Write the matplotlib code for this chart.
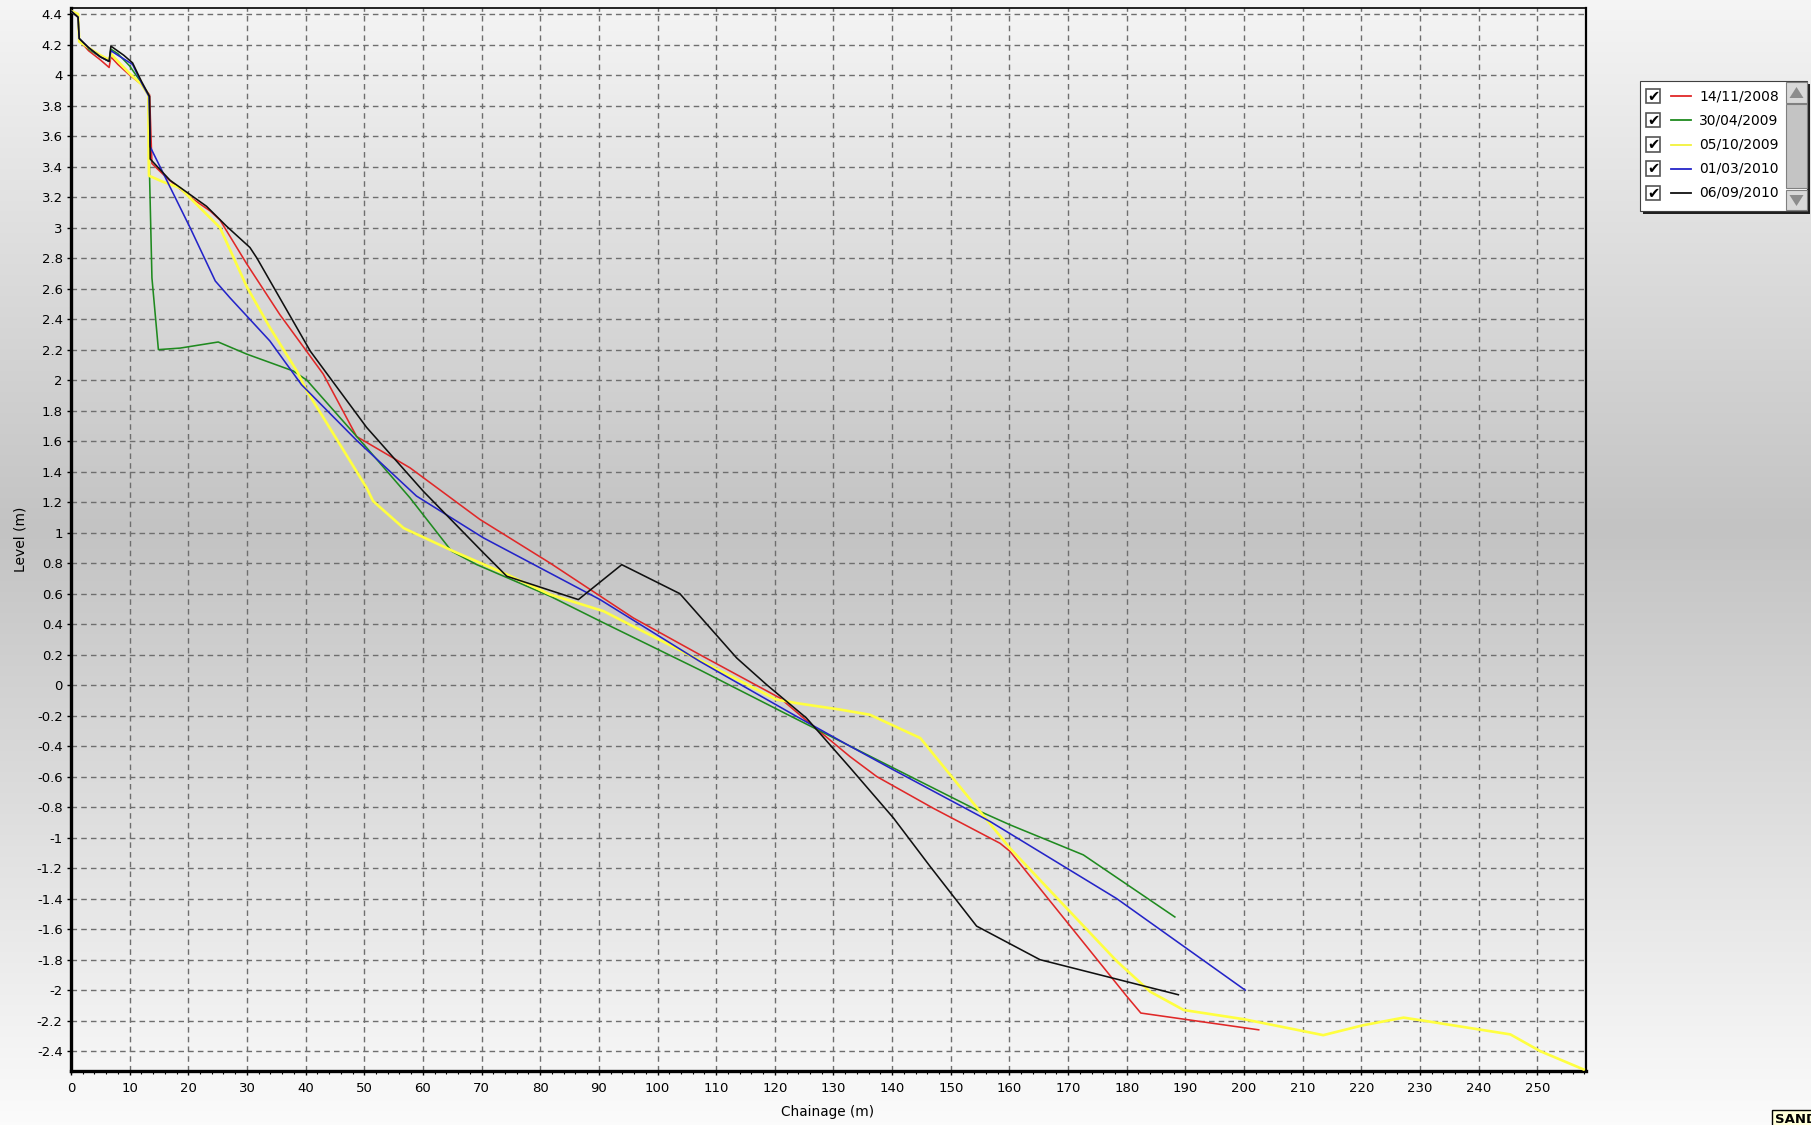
import numpy as np
import matplotlib
matplotlib.use("Agg")
import matplotlib.pyplot as plt
from matplotlib.patches import Rectangle, Polygon
from matplotlib.ticker import MultipleLocator, FuncFormatter

# ---------------- data ----------------
series_labels = ["14/11/2008", "30/04/2009", "05/10/2009", "01/03/2010", "06/09/2010"]
series_colors = ["#e02828", "#1f8a1f", "#ffff40", "#2424c8", "#101010"]

red_x = [0, 1.2, 1.4, 3, 5, 6.5, 6.8, 8, 10, 12, 13.2, 13.4, 13.8, 16.5, 20.3, 23.7, 25.4, 30, 35.6, 43,
         48.7, 57.8, 69.7, 81.7, 95.9, 107.2, 120.9, 124.9, 132.8, 137.4, 147, 158.4, 160.1, 180, 182.4, 202.5]
red_y = [4.42, 4.38, 4.23, 4.16, 4.10, 4.05, 4.12, 4.07, 4.00, 3.94, 3.88, 3.87, 3.42, 3.32, 3.20, 3.11, 3.05,
         2.76, 2.43, 2.04, 1.63, 1.425, 1.087, 0.80, 0.44, 0.20, -0.085, -0.216, -0.468, -0.60, -0.807,
         -1.037, -1.09, -2.04, -2.15, -2.26]

green_x = [0, 1.2, 1.4, 3, 5, 6.5, 6.8, 8, 10, 12, 13.2, 13.4, 13.8, 14.9, 18.6, 25.1, 30, 37.9, 40.2,
           50.4, 57.8, 64.9, 69.2, 81.7, 90.2, 107.2, 121.5, 138.5, 154.4, 160.1, 172.6, 188.2]
green_y = [4.42, 4.38, 4.24, 4.17, 4.12, 4.09, 4.17, 4.14, 4.06, 3.95, 3.87, 3.33, 2.67, 2.20, 2.21, 2.25,
           2.17, 2.06, 2.00, 1.557, 1.228, 0.878, 0.79, 0.583, 0.42, 0.10, -0.18, -0.51, -0.818, -0.916,
           -1.113, -1.52]

yellow_x = [0, 1.2, 1.4, 3, 5, 6.5, 6.8, 8, 10, 12, 13.2, 13.25, 13.3, 15.7, 18.6, 25.4, 30, 33.9, 38.5,
            40.2, 44.7, 50.4, 51.5, 56.7, 65.2, 74.3, 81.7, 90.8, 120.3, 123.7, 131.1, 136.2, 144.8, 149.9,
            160.1, 178.3, 184, 189.7, 199.9, 209, 213.5, 220.3, 227.2, 230.6, 245.4, 250.5, 257.9]
yellow_y = [4.42, 4.40, 4.22, 4.18, 4.13, 4.10, 4.14, 4.09, 4.01, 3.94, 3.87, 3.44, 3.34, 3.30, 3.26, 3.00,
            2.61, 2.345, 2.06, 1.93, 1.65, 1.294, 1.207, 1.03, 0.878, 0.726, 0.594, 0.485, -0.095, -0.118,
            -0.16, -0.194, -0.347, -0.588, -1.07, -1.81, -2.01, -2.13, -2.19, -2.26, -2.295, -2.23, -2.18,
            -2.20, -2.29, -2.40, -2.52]

blue_x = [0, 1.2, 1.4, 3, 5, 6.5, 6.8, 8, 10.5, 12, 13.3, 13.5, 20.3, 24.6, 27.1, 33.9, 39.3, 48.7, 58.9,
          70.3, 90.2, 107.2, 123.7, 132.8, 140.2, 156.7, 178.3, 200.2]
blue_y = [4.42, 4.38, 4.24, 4.18, 4.12, 4.09, 4.16, 4.13, 4.07, 3.95, 3.86, 3.53, 3.0, 2.65, 2.54, 2.257,
          1.97, 1.605, 1.24, 0.966, 0.561, 0.156, -0.205, -0.40, -0.555, -0.894, -1.40, -2.0]

black_x = [0, 1.2, 1.4, 3, 5, 6.5, 6.8, 9, 10.5, 12, 13.4, 13.5, 16.9, 23.1, 26.5, 30.5, 31.7, 40.8, 50.4,
           60.1, 70, 74.3, 86.5, 93.9, 103.8, 113.5, 118.6, 125.4, 132.8, 140.2, 146.5, 154.4, 165.2, 188.8]
black_y = [4.42, 4.38, 4.24, 4.18, 4.12, 4.09, 4.19, 4.13, 4.08, 3.96, 3.86, 3.45, 3.31, 3.14, 3.01, 2.87,
           2.80, 2.19, 1.69, 1.27, 0.88, 0.714, 0.561, 0.79, 0.60, 0.178, 0.003, -0.216, -0.54, -0.87, -1.19,
           -1.58, -1.80, -2.03]

all_x = [red_x, green_x, yellow_x, blue_x, black_x]
all_y = [red_y, green_y, yellow_y, blue_y, black_y]

x_ticks = list(range(0, 251, 10))
y_ticks = [round(v, 1) for v in np.arange(-2.4, 4.41, 0.2)]

# ---------------- figure ----------------
W, H = 1811, 1125
fig = plt.figure(figsize=(W / 100, H / 100), dpi=100)

def fx(px):
    return px / W

def fy(py):
    return 1 - py / H

# background vertical gradient
bg = fig.add_axes([0, 0, 1, 1], zorder=-10)
t = np.linspace(0, 1, 400)
stops = [(0.0, 0.96), (0.47, 0.765), (1.0, 0.985)]
vals = np.interp(t, [s[0] for s in stops], [s[1] for s in stops])
grad = np.repeat(vals[:, None], 4, axis=1)
bg.imshow(np.dstack([grad, grad, grad]), aspect="auto", extent=[0, 1, 0, 1], interpolation="bilinear")
bg.set_axis_off()

left, right, top, bottom = 71, 1586, 8, 1071
ax = fig.add_axes([fx(left), fy(bottom), fx(right - left), (bottom - top) / H])
ax.set_facecolor("none")

for xs, ys, c, lab in zip(all_x, all_y, series_colors, series_labels):
    lw = 1.9 if c == "#ffff40" else 1.15
    ax.plot(xs, ys, color=c, lw=lw, label=lab, solid_joinstyle="round", zorder=3)

ax.set_xlim(0, 258.3)
ax.set_ylim(-2.53, 4.44)
ax.set_xticks(x_ticks)
ax.set_yticks(y_ticks)
ax.xaxis.set_minor_locator(MultipleLocator(2))
ax.yaxis.set_major_formatter(FuncFormatter(lambda v, p: f"{round(v, 1):g}".replace("−", "-")))
ax.xaxis.set_major_formatter(FuncFormatter(lambda v, p: f"{int(round(v))}"))
ax.tick_params(axis="both", which="major", direction="out", length=3, width=1, colors="black",
               labelsize=9.5, labelfontfamily="DejaVu Sans")
ax.tick_params(axis="x", which="major", pad=5)
ax.tick_params(axis="y", which="major", pad=3)
ax.tick_params(axis="x", which="minor", direction="out", length=2, width=0.8, colors="black")

ax.grid(True, which="major", color="#6e6e6e", lw=1.0, linestyle=(0, (4, 3)), zorder=1)
ax.set_axisbelow(True)
ax.spines["left"].set_linewidth(2.4)
ax.spines["bottom"].set_linewidth(2.4)
ax.spines["top"].set_linewidth(1.2)
ax.spines["right"].set_linewidth(1.6)
for s in ax.spines.values():
    s.set_color("black")

fig.text(fx(828), fy(1112), "Chainage (m)", ha="center", va="center", fontsize=9.8, family="DejaVu Sans")
fig.text(fx(20), fy(539), "Level (m)", ha="center", va="center", rotation=90, fontsize=10,
         family="DejaVu Sans")

# ---------------- legend (custom, drawn as figure artists) ----------------
def rect(x0, y0, w, h, **kw):
    p = Rectangle((fx(x0), fy(y0 + h)), w / W, h / H, transform=fig.transFigure, **kw)
    fig.add_artist(p)
    return p

lx0, ly0, lx1, ly1 = 1640, 81, 1807, 211
# shadow
rect(lx0 + 3, ly0 + 3, lx1 - lx0, ly1 - ly0, facecolor="#202020", edgecolor="none", zorder=20)
rect(lx0, ly0, lx1 - lx0, ly1 - ly0, facecolor="white", edgecolor="#404040", lw=0.8, zorder=21)

# scrollbar
sx0, sx1 = 1786, 1807
rect(sx0, ly0 + 1, sx1 - sx0, 21, facecolor="#d8d8d8", edgecolor="#808080", lw=0.8, zorder=22)
rect(sx0, ly0 + 23, sx1 - sx0, 84, facecolor="#c4c4c4", edgecolor="#808080", lw=0.8, zorder=22)
rect(sx0, ly1 - 21, sx1 - sx0, 20, facecolor="#d8d8d8", edgecolor="#808080", lw=0.8, zorder=22)
cx = (sx0 + sx1) / 2
up = Polygon([(fx(cx - 7), fy(ly0 + 17)), (fx(cx + 7), fy(ly0 + 17)), (fx(cx), fy(ly0 + 6))],
             closed=True, transform=fig.transFigure, facecolor="#8c8c8c", edgecolor="none", zorder=23)
dn = Polygon([(fx(cx - 7), fy(ly1 - 16)), (fx(cx + 7), fy(ly1 - 16)), (fx(cx), fy(ly1 - 5))],
             closed=True, transform=fig.transFigure, facecolor="#8c8c8c", edgecolor="none", zorder=23)
fig.add_artist(up)
fig.add_artist(dn)

row_y = [96, 120, 144.5, 168.5, 193]
for ry, c, lab in zip(row_y, series_colors, series_labels):
    rect(1646, ry - 7, 14, 14, facecolor="white", edgecolor="#555555", lw=1.2, zorder=22)
    fig.text(fx(1653), fy(ry + 0.5), "\u2714", ha="center", va="center", fontsize=10.5,
             color="black", family="DejaVu Sans", zorder=23)
    lc = "#f2f23a" if c == "#ffff40" else c
    fig.add_artist(plt.Line2D([fx(1671), fx(1691)], [fy(ry), fy(ry)], color=lc, lw=1.3,
                              transform=fig.transFigure, zorder=23))
    fig.text(fx(1699), fy(ry), lab, ha="left", va="center", fontsize=10, color="black",
             family="DejaVu Sans", zorder=23)

# clipped badge in bottom-right corner
fig.text(fx(1775), fy(1113), "SANDS", ha="left", va="top", fontsize=9.5, fontweight="bold",
         family="DejaVu Sans", color="black",
         bbox=dict(boxstyle="square,pad=0.2", facecolor="#ffffd8", edgecolor="black", lw=1.0))

fig.savefig("out.png", dpi=100)
